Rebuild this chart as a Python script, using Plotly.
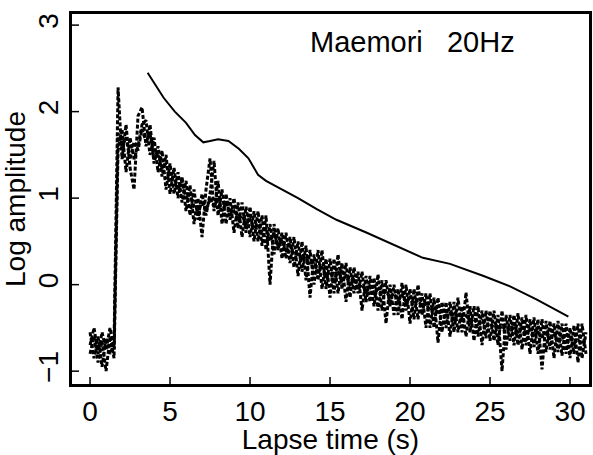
import plotly.graph_objects as go

# Lapse-time sampling grid (s), 0.25 s steps from 0 to 31 s
lapse_time = [round(i * 0.25, 2) for i in range(125)]

trace_a = [-0.55, -0.85, -0.60, -0.95, -0.62, -0.80, -0.68, 2.28, 1.45, 1.85,
           1.35, 1.10, 1.95, 2.05, 1.60, 1.85, 1.40, 1.60, 1.25, 1.50,
           1.05, 1.35, 1.00, 1.25, 0.85, 1.15, 0.70, 1.00, 0.55, 1.10,
           1.46, 0.85, 1.20, 0.70, 1.05, 0.75, 1.00, 0.65, 0.95, 0.60,
           0.90, 0.50, 0.85, 0.45, 0.80, 0.00, 0.70, 0.40, 0.60, 0.30,
           0.55, 0.20, 0.50, 0.15, 0.45, -0.15, 0.35, 0.05, 0.40, -0.05,
           0.30, -0.10, 0.35, -0.05, 0.25, -0.15, 0.20, -0.10, 0.15, -0.20,
           0.10, -0.25, 0.12, -0.30, 0.05, -0.25, 0.00, -0.35, 0.02, -0.30,
           -0.05, -0.40, 0.00, -0.35, -0.10, -0.50, -0.15, -0.67, -0.20, -0.50,
           -0.20, -0.55, -0.15, -0.55, -0.09, -0.55, -0.25, -0.60, -0.30, -0.62,
           -0.30, -0.65, -0.35, -1.00, -0.35, -0.65, -0.35, -0.70, -0.38, -0.70,
           -0.40, -0.72, -0.40, -0.98, -0.42, -0.75, -0.45, -0.78, -0.45, -0.80,
           -0.50, -0.80, -0.45, -0.85, -0.55]
trace_b = [-0.80, -0.60, -0.90, -0.65, -1.00, -0.60, -0.85, 1.55, 1.80, 1.30,
           1.70, 1.45, 1.60, 1.85, 1.90, 1.50, 1.70, 1.30, 1.55, 1.10,
           1.40, 1.05, 1.30, 0.95, 1.20, 0.80, 1.10, 0.75, 1.05, 0.80,
           1.05, 1.43, 0.80, 1.10, 0.70, 1.00, 0.60, 0.95, 0.55, 0.90,
           0.55, 0.85, 0.50, 0.80, 0.40, 0.70, 0.35, 0.65, 0.30, 0.60,
           0.25, 0.55, 0.10, 0.50, 0.05, 0.40, 0.00, 0.40, -0.05, 0.30,
           -0.15, 0.30, -0.10, 0.25, -0.20, 0.20, -0.10, 0.15, -0.30, 0.10,
           -0.20, 0.08, -0.30, 0.05, -0.45, 0.00, -0.35, -0.05, -0.40, 0.00,
           -0.45, -0.05, -0.40, -0.10, -0.50, -0.10, -0.50, -0.15, -0.55, -0.20,
           -0.60, -0.20, -0.55, -0.25, -0.60, -0.25, -0.65, -0.25, -0.70, -0.30,
           -0.65, -0.30, -0.70, -0.30, -0.75, -0.35, -0.70, -0.33, -0.75, -0.35,
           -0.80, -0.38, -0.80, -0.40, -0.78, -0.42, -0.85, -0.42, -0.82, -0.45,
           -0.85, -0.47, -0.90, -0.45, -0.80]
trace_c = [-0.70, -0.50, -0.80, -0.55, -0.75, -0.50, -0.75, 1.75, 1.60, 1.70,
           1.45, 1.65, 1.55, 1.80, 1.65, 1.75, 1.45, 1.50, 1.35, 1.40,
           1.20, 1.25, 1.10, 1.20, 1.00, 1.05, 0.90, 0.85, 0.95, 0.85,
           1.00, 0.90, 1.00, 0.85, 0.95, 0.80, 0.85, 0.75, 0.80, 0.70,
           0.75, 0.65, 0.70, 0.60, 0.65, 0.50, 0.60, 0.45, 0.50, 0.40,
           0.45, 0.35, 0.35, 0.30, 0.30, 0.25, 0.25, 0.15, 0.20, 0.10,
           0.15, 0.05, 0.15, 0.05, 0.10, 0.00, 0.05, -0.05, 0.00, -0.08,
           -0.02, -0.10, -0.05, -0.12, -0.08, -0.15, -0.10, -0.18, -0.12, -0.20,
           -0.15, -0.22, -0.18, -0.25, -0.22, -0.30, -0.28, -0.32, -0.30, -0.36,
           -0.33, -0.40, -0.35, -0.40, -0.36, -0.42, -0.40, -0.46, -0.42, -0.48,
           -0.45, -0.50, -0.46, -0.52, -0.48, -0.53, -0.50, -0.55, -0.50, -0.56,
           -0.52, -0.58, -0.55, -0.60, -0.56, -0.62, -0.58, -0.64, -0.60, -0.66,
           -0.62, -0.68, -0.64, -0.68, -0.62]

# Model curve (solid line)
model_time = [3.6, 4.6, 5.3, 6.0, 6.56, 7.08, 7.5, 8.0, 8.65, 9.3, 9.9, 10.5,
              11.0, 11.6, 13.0, 14.2, 15.4, 17.3, 19.2, 20.8, 22.5, 23.3,
              24.6, 26.25, 27.9, 29.9]
model_amp = [2.45, 2.16, 2.0, 1.87, 1.73, 1.645, 1.66, 1.68, 1.66, 1.57, 1.46,
             1.27, 1.20, 1.14, 1.00, 0.87, 0.75, 0.60, 0.44, 0.31, 0.24, 0.19,
             0.10, -0.02, -0.17, -0.37]

x_ticks = [0, 5, 10, 15, 20, 25, 30]
y_ticks = [-1, 0, 1, 2, 3]
label_text = "Maemori   20Hz"

X_RANGE = [-1.19, 31.25]
Y_RANGE = [-1.16, 3.14]
W, H = 593, 455
MARGIN = dict(l=71, r=3, t=13, b=70)
FONT = "Liberation Sans, Arial, sans-serif"

px_per_x = (W - MARGIN["l"] - MARGIN["r"]) / (X_RANGE[1] - X_RANGE[0])
px_per_y = (H - MARGIN["t"] - MARGIN["b"]) / (Y_RANGE[1] - Y_RANGE[0])
TICK_PX = 8

fig = go.Figure()
for tr in (trace_a, trace_b, trace_c):
    fig.add_trace(go.Scatter(x=lapse_time, y=tr, mode="lines",
                             line=dict(color="black", width=3, dash="4px,2px"),
                             showlegend=False, hoverinfo="skip"))
fig.add_trace(go.Scatter(x=model_time, y=model_amp, mode="lines",
                         line=dict(color="black", width=2),
                         showlegend=False, hoverinfo="skip"))

# inward tick marks on the bottom and left axes, built from the tick lists
tick_x, tick_y = [], []
for t in x_ticks:
    tick_x += [t, t, None]
    tick_y += [Y_RANGE[0], Y_RANGE[0] + TICK_PX / px_per_y, None]
for v in y_ticks:
    tick_x += [X_RANGE[0], X_RANGE[0] + TICK_PX / px_per_x, None]
    tick_y += [v, v, None]
fig.add_trace(go.Scatter(x=tick_x, y=tick_y, mode="lines",
                         line=dict(color="black", width=1.5),
                         showlegend=False, hoverinfo="skip"))

# plot frame
fig.add_shape(type="rect", xref="paper", yref="paper", x0=0, y0=0, x1=1, y1=1,
              line=dict(color="black", width=2), layer="above")

fig.add_annotation(x=13.6, y=2.81, text=label_text, showarrow=False,
                   xanchor="left",
                   font=dict(family=FONT, size=29, color="black"))

axis_common = dict(showline=True, mirror=True, linecolor="black", linewidth=2,
                   showgrid=False, zeroline=False, automargin=False,
                   tickfont=dict(family=FONT, size=28, color="black"))

fig.update_xaxes(range=X_RANGE, tickvals=x_ticks,
                 title=dict(text="Lapse time (s)", standoff=4,
                            font=dict(family=FONT, size=28, color="black")),
                 **axis_common)
fig.update_yaxes(range=Y_RANGE, tickvals=y_ticks, tickangle=-90,
                 title=dict(text="Log amplitude", standoff=2,
                            font=dict(family=FONT, size=28, color="black")),
                 **axis_common)

fig.update_layout(width=W, height=H, margin=MARGIN,
                  plot_bgcolor="white", paper_bgcolor="white",
                  font=dict(family=FONT, color="black"))

fig.write_html("out.html", config={"displayModeBar": False},
               post_script="document.body.style.margin='0';")
